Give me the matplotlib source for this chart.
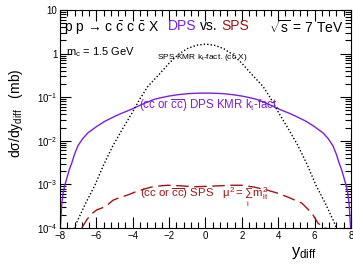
import matplotlib
matplotlib.use("Agg")
import matplotlib.pyplot as plt
import numpy as np
from matplotlib.ticker import FixedLocator, LogLocator, FuncFormatter, MultipleLocator

plt.rcParams['font.family'] = ['Liberation Sans', 'DejaVu Sans']
plt.rcParams['mathtext.fontset'] = 'custom'
plt.rcParams['mathtext.rm'] = 'Liberation Sans'
plt.rcParams['mathtext.it'] = 'Liberation Sans'
plt.rcParams['mathtext.bf'] = 'Liberation Sans:bold'

# DPS KMR kt-fact. (symmetric in y_diff, read for y_diff >= 0)
dps_y = [0, 0.5, 1, 1.5, 2, 2.4, 2.78, 3.2, 3.71, 4.1, 4.59, 5.0, 5.53,
         6.0, 6.46, 6.75, 7.01, 7.2, 7.34, 7.5, 7.62, 7.74, 7.84, 7.91,
         7.95, 8.0]
dps_v = [0.124, 0.123, 0.12, 0.114, 0.106, 0.098, 0.09, 0.077, 0.062,
         0.052, 0.043, 0.036, 0.028, 0.021, 0.0152, 0.0112, 0.0077,
         0.0049, 0.0032, 0.0021, 0.0014, 0.00093, 0.0006, 0.00032,
         0.00017, 0.00008]

# SPS KMR kt-fact. (c cbar X), symmetric
sps_kt_y = [0, 0.5, 1.0, 1.5, 2.0, 2.5, 3.16, 3.6, 4.04, 4.55, 5.09,
            5.6, 6.08, 6.6, 7.07, 7.3]
sps_kt_v = [1.65, 1.55, 1.3, 0.95, 0.6, 0.35, 0.178, 0.092, 0.043, 0.019,
            0.0077, 0.0028, 0.00095, 0.00036, 0.000137, 0.00008]

# SPS (cc or cbar cbar), mu^2 = sum m_t^2
sps_y = [-6.8, -6.5, -6.2, -5.97, -5.7, -5.4, -5.09, -4.7, -4.32, -3.77,
         -3.05, -2.5, -2.07, -1.5, -1.0, -0.5, 0.13, 0.7, 1.3, 2.0, 2.7,
         3.43, 4.0, 4.53, 5.3, 5.85, 6.18, 6.5, 6.8]
sps_v = [1.0e-4, 1.6e-4, 2.2e-4, 2.6e-4, 2.85e-4, 3.3e-4, 4.3e-4, 5.0e-4,
         5.6e-4, 6.9e-4, 8.5e-4, 9.2e-4, 9.5e-4, 9.3e-4, 9.0e-4, 8.8e-4,
         9.0e-4, 9.2e-4, 9.5e-4, 9.5e-4, 8.6e-4, 7.3e-4, 6.2e-4, 5.1e-4,
         3.7e-4, 2.2e-4, 1.3e-4, 1.0e-4, 0.95e-4]


def mirror(x, v):
    x = np.array(x)
    v = np.array(v)
    return np.concatenate([-x[::-1], x[1:]]), np.concatenate([v[::-1], v[1:]])


purple = '#7b1fe0'
red = '#a01414'

fig = plt.figure(figsize=(3.53, 2.70), dpi=100)
ax = fig.add_axes([0.17, 0.156, 0.824, 0.807])

x, v = mirror(dps_y, dps_v)
ax.plot(x, v, color=purple, lw=1.0)
x, v = mirror(sps_kt_y, sps_kt_v)
ax.plot(x, v, color='black', lw=1.0, ls=(0, (1, 1.5)))
ax.plot(sps_y, sps_v, color=red, lw=1.0, ls=(0, (9, 4)))

ax.set_yscale('log')
ax.set_xlim(-8, 8)
ax.set_ylim(1e-4, 10)

ax.xaxis.set_major_locator(MultipleLocator(2))
ax.xaxis.set_minor_locator(MultipleLocator(0.4))
ax.yaxis.set_major_locator(FixedLocator([1e-4, 1e-3, 1e-2, 1e-1, 1, 10]))
ax.yaxis.set_minor_locator(LogLocator(base=10, subs=np.arange(2, 10)))


def yfmt(val, pos):
    if val >= 10:
        return '10'
    if val >= 1:
        return '1'
    return r'$10^{%d}$' % int(round(np.log10(val)))


ax.yaxis.set_major_formatter(FuncFormatter(yfmt))
ax.yaxis.set_minor_formatter(FuncFormatter(lambda v, p: ''))
ax.tick_params(which='both', direction='in', top=True, right=True,
               labelsize=7, width=0.8, pad=2)
ax.tick_params(which='major', length=8)
ax.tick_params(which='minor', length=4)
for s in ax.spines.values():
    s.set_linewidth(0.8)

ax.text(0.012, 0.958, r'p p → c $\bar{\rm c}$ c $\bar{\rm c}$ X',
        transform=ax.transAxes, fontsize=10, va='top', ha='left')
ax.text(0.371, 0.958, 'DPS', color=purple, transform=ax.transAxes,
        fontsize=10, va='top', ha='left')
ax.text(0.482, 0.958, 'vs.', color='black', transform=ax.transAxes,
        fontsize=10, va='top', ha='left')
ax.text(0.553, 0.958, 'SPS', color=red, transform=ax.transAxes,
        fontsize=10, va='top', ha='left')
ax.text(0.976, 0.958, r'$\sqrt{\rm s}$ = 7 TeV', transform=ax.transAxes,
        fontsize=10, va='top', ha='right')
ax.text(0.02, 0.84, r'm$_{\rm c}$ = 1.5 GeV', transform=ax.transAxes,
        fontsize=8, va='top', ha='left')

ax.text(0.49, 0.78, r'SPS KMR k$_{\rm t}$-fact. (c$\bar{\rm c}$ X)',
        transform=ax.transAxes, fontsize=6, va='center', ha='center')
ax.text(0.27, 0.56, r'(cc or $\overline{\rm cc}$) DPS KMR k$_{\rm t}$-fact.',
        color=purple, transform=ax.transAxes, fontsize=8.3, va='center', ha='left')
ax.text(0.275, 0.14, r'(cc or $\overline{\rm cc}$) SPS   $\mu^2 = \sum_{\rm i}\, {\rm m}^2_{\rm it}$',
        color=red, transform=ax.transAxes, fontsize=8.2, va='center', ha='left')

fig.text(0.86, 0.035, r'y$_{\rm diff}$', fontsize=12, ha='center', va='bottom')
fig.text(0.045, 0.58, r'd$\sigma$/dy$_{\rm diff}$   (mb)', fontsize=10,
         rotation=90, ha='center', va='center')

fig.savefig('out.png', dpi=100)
